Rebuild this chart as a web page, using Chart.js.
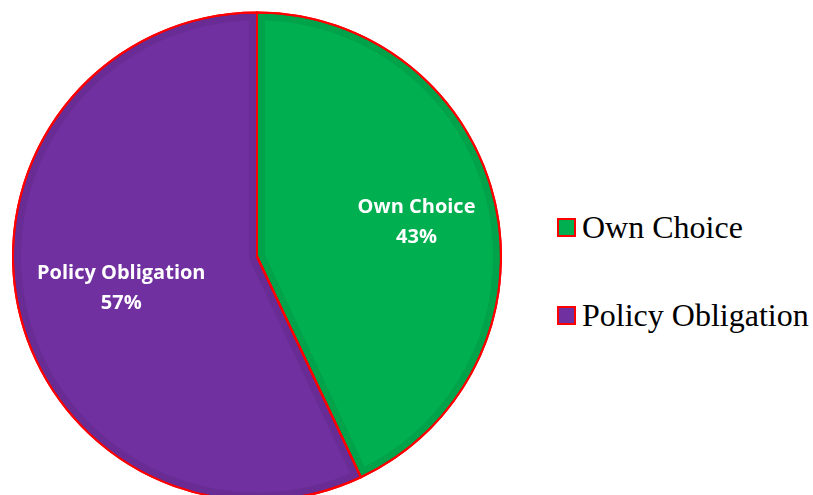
<!DOCTYPE html>
<html><head><meta charset="utf-8">
<script src="https://cdn.jsdelivr.net/npm/chart.js@4.4.1/dist/chart.umd.min.js"></script>
<style>
html,body{margin:0;padding:0;background:#fff;width:813px;height:495px;overflow:hidden;}
#wrap{position:absolute;left:0;top:0;width:516px;height:514px;}
#legend{position:absolute;left:557px;top:0;font-family:"Liberation Serif","Times New Roman",serif;font-size:32px;color:#000;}
.item{position:absolute;left:0;white-space:nowrap;height:40px;display:flex;align-items:center;}
.box{width:15px;height:15px;border:2px solid #ff0000;margin-right:6px;flex:none;}
</style></head>
<body>
<div id="wrap"><canvas id="c"></canvas></div>
<div id="legend"></div>
<script>
const categories = ["Own Choice", "Policy Obligation"];
const percentages = [43, 57];
const sliceColors = ["#00b050", "#7030a0"];
const legendTops = [207, 295];
const labelRadius = [0.67, 0.57];

const labelPlugin = {
  id: 'sliceLabels',
  afterDatasetsDraw(chart) {
    const ctx = chart.ctx;
    const meta = chart.getDatasetMeta(0);
    meta.data.forEach((arc, i) => {
      const p = arc.getProps(['x','y','startAngle','endAngle','outerRadius'], true);
      ctx.save();
      ctx.beginPath();
      ctx.moveTo(p.x, p.y);
      ctx.arc(p.x, p.y, p.outerRadius, p.startAngle, p.endAngle);
      ctx.closePath();
      ctx.clip();
      ctx.lineWidth = 16;
      ctx.strokeStyle = 'rgba(0,0,0,0.07)';
      ctx.stroke();
      ctx.restore();
    });
    meta.data.forEach((arc, i) => {
      const p = arc.getProps(['x','y','startAngle','endAngle','outerRadius'], true);
      ctx.save();
      ctx.beginPath();
      ctx.moveTo(p.x, p.y);
      ctx.arc(p.x, p.y, p.outerRadius, p.startAngle, p.endAngle);
      ctx.closePath();
      ctx.lineWidth = 2;
      ctx.strokeStyle = '#ff0000';
      ctx.stroke();
      ctx.restore();
      const mid = (p.startAngle + p.endAngle) / 2;
      const r = p.outerRadius * labelRadius[i];
      const x = p.x + Math.cos(mid) * r;
      const y = p.y + Math.sin(mid) * r;
      ctx.save();
      ctx.fillStyle = '#ffffff';
      ctx.font = 'bold 20px "Open Sans", Lato, sans-serif';
      ctx.textAlign = 'center';
      ctx.textBaseline = 'middle';
      ctx.fillText(chart.data.labels[i], x, y - 14);
      ctx.fillText(chart.data.datasets[0].data[i] + '%', x, y + 16);
      ctx.restore();
    });
  }
};

new Chart(document.getElementById('c'), {
  type: 'pie',
  data: {
    labels: categories,
    datasets: [{
      data: percentages,
      backgroundColor: sliceColors,
      borderColor: '#ff0000',
      borderWidth: 2
    }]
  },
  options: {
    responsive: true,
    maintainAspectRatio: false,
    animation: false,
    layout: { padding: { left: 12, top: 11, right: 14, bottom: 12 } },
    plugins: { legend: { display: false }, tooltip: { enabled: false } }
  },
  plugins: [labelPlugin]
});

const lg = document.getElementById('legend');
categories.forEach((c, i) => {
  const d = document.createElement('div');
  d.className = 'item';
  d.style.top = legendTops[i] + 'px';
  d.innerHTML = '<span class="box" style="background:' + sliceColors[i] + '"></span><span></span>';
  d.lastChild.textContent = c;
  lg.appendChild(d);
});
</script>
</body></html>
